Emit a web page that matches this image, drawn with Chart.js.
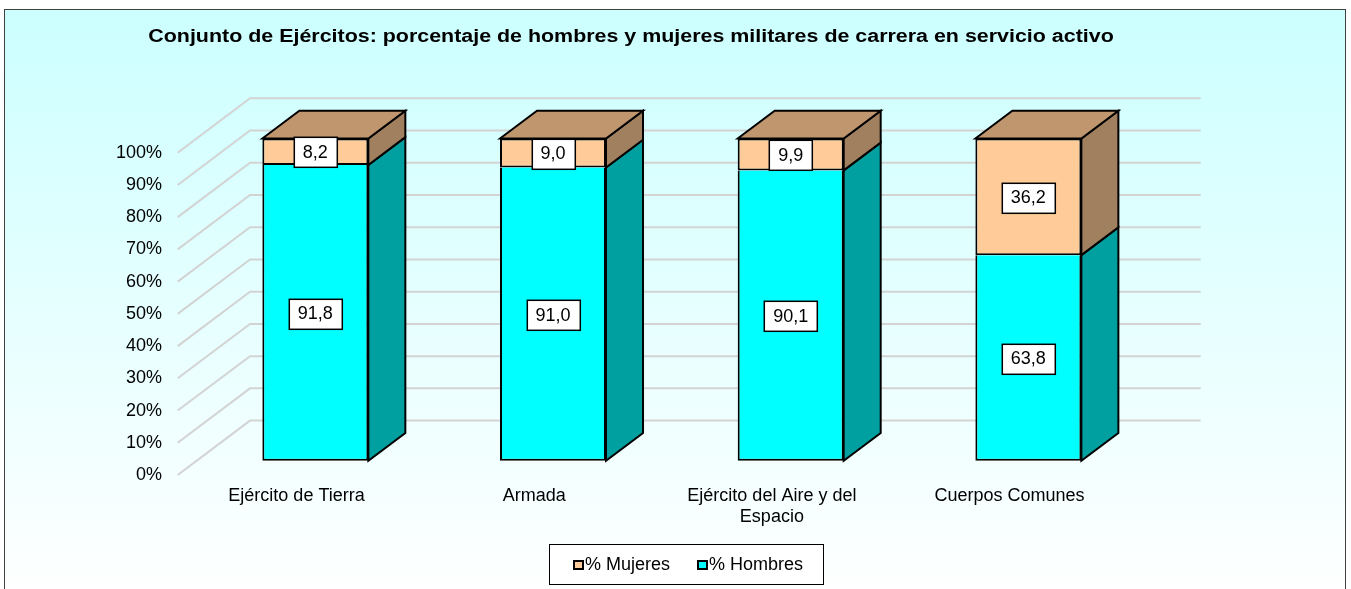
<!DOCTYPE html>
<html>
<head>
<meta charset="utf-8">
<script src="https://cdn.jsdelivr.net/npm/chart.js@4/dist/chart.umd.min.js"></script>
<style>
html,body{margin:0;padding:0;background:#fff;overflow:hidden}
#wrap{width:1351px;height:589px;position:relative}
</style>
</head>
<body>
<div id="wrap"><canvas id="c" width="1351" height="589"></canvas></div>
<script>
// ---- data ----
const categories = ["Ejército de Tierra", "Armada", ["Ejército del Aire y del", "Espacio"], "Cuerpos Comunes"];
const hombres = [91.8, 91.0, 90.1, 63.8];
const mujeres = [8.2, 9.0, 9.9, 36.2];
const seriesNames = ["% Hombres", "% Mujeres"];
const yTickValues = [0, 10, 20, 30, 40, 50, 60, 70, 80, 90, 100];
const titleText = "Conjunto de Ejércitos: porcentaje de hombres y mujeres militares de carrera en servicio activo";

// ---- styling / geometry ----
const FONT = '"Liberation Sans", Arial, sans-serif';
const WALL = {dx: 72.3, dy: -54.4};     // depth of the back wall
const BAR_OFF = {dx: 18.8, dy: -14.2};  // bar front face offset from front plane
const BAR_D = {dx: 37, dy: -27.8};      // bar depth
const COLORS = {
  hombres: {front: '#00FFFF', side: '#00A0A0', top: '#00C8C8'},
  mujeres: {front: '#FFCC99', side: '#A0805F', top: '#C0966E'}
};

function poly(ctx, pts, fill) {
  ctx.beginPath();
  ctx.moveTo(pts[0][0], pts[0][1]);
  for (let i = 1; i < pts.length; i++) ctx.lineTo(pts[i][0], pts[i][1]);
  ctx.closePath();
  ctx.fillStyle = fill;
  ctx.fill();
  ctx.stroke();
}

const scenePlugin = {
  id: 'scene',
  beforeDraw(chart) {
    const ctx = chart.ctx;
    ctx.save();
    ctx.fillStyle = '#ffffff';
    ctx.fillRect(0, 0, chart.width, chart.height);
    const g = ctx.createLinearGradient(0, 9, 0, 600);
    g.addColorStop(0, '#CCFFFF');
    g.addColorStop(1, '#FFFFFF');
    ctx.fillStyle = g;
    ctx.fillRect(4, 9, 1342, 700);
    ctx.strokeStyle = '#404040';
    ctx.lineWidth = 1;
    ctx.strokeRect(4.5, 9.5, 1341, 700);
    ctx.restore();
  },
  beforeDatasetsDraw(chart) {
    const ctx = chart.ctx;
    const ys = chart.scales.y;
    const area = chart.chartArea;
    // 3D gridlines: side wall diagonals + back wall lines
    ctx.save();
    ctx.strokeStyle = '#D3D3D3';
    ctx.lineWidth = 2;
    yTickValues.forEach(v => {
      const y = ys.getPixelForValue(v);
      ctx.beginPath();
      ctx.moveTo(area.left, y);
      ctx.lineTo(area.left + WALL.dx, y + WALL.dy);
      ctx.lineTo(area.right + WALL.dx, y + WALL.dy);
      ctx.stroke();
    });
    ctx.restore();
    // shift to bar front plane
    ctx.save();
    ctx.translate(BAR_OFF.dx, BAR_OFF.dy);
    ctx.strokeStyle = '#000';
    ctx.lineWidth = 2;
    ctx.lineJoin = 'miter';
    const m0 = chart.getDatasetMeta(0).data;
    const m1 = chart.getDatasetMeta(1).data;
    for (let i = 0; i < m0.length; i++) {
      const h = m0[i], m = m1[i];
      const L = h.x - h.width / 2, R = h.x + h.width / 2;
      // hombres side
      poly(ctx, [[R, h.y], [R + BAR_D.dx, h.y + BAR_D.dy], [R + BAR_D.dx, h.base + BAR_D.dy], [R, h.base]], COLORS.hombres.side);
      // mujeres side
      poly(ctx, [[R, m.y], [R + BAR_D.dx, m.y + BAR_D.dy], [R + BAR_D.dx, m.base + BAR_D.dy], [R, m.base]], COLORS.mujeres.side);
      // top
      poly(ctx, [[L, m.y], [L + BAR_D.dx, m.y + BAR_D.dy], [R + BAR_D.dx, m.y + BAR_D.dy], [R, m.y]], COLORS.mujeres.top);
    }
  },
  afterDatasetsDraw(chart) {
    const ctx = chart.ctx;
    // data labels (still in shifted coords)
    ctx.font = '18px ' + FONT;
    ctx.textAlign = 'center';
    ctx.textBaseline = 'middle';
    chart.data.datasets.forEach((ds, di) => {
      chart.getDatasetMeta(di).data.forEach((el, i) => {
        const txt = ds.data[i].toFixed(1).replace('.', ',');
        const cx = el.x, cy = (el.y + el.base) / 2 + 0.5;
        const w = ctx.measureText(txt).width + 18, hgt = 30;
        ctx.fillStyle = '#fff';
        ctx.fillRect(Math.round(cx - w / 2) + 0.5, Math.round(cy - hgt / 2) + 0.5, Math.round(w), hgt);
        ctx.strokeStyle = '#000';
        ctx.lineWidth = 1.5;
        ctx.strokeRect(Math.round(cx - w / 2) + 0.5, Math.round(cy - hgt / 2) + 0.5, Math.round(w), hgt);
        ctx.fillStyle = '#000';
        ctx.fillText(txt, cx, cy + 1);
      });
    });
    ctx.restore();
  },
  afterDraw(chart) {
    const ctx = chart.ctx;
    ctx.save();
    // title
    ctx.font = 'bold 18px ' + FONT;
    ctx.fillStyle = '#000';
    ctx.textAlign = 'center';
    ctx.textBaseline = 'middle';
    ctx.translate(631, 37.5);
    ctx.scale(1.19, 1);
    ctx.fillText(titleText, 0, 0);
    ctx.restore();
    // legend
    ctx.save();
    ctx.fillStyle = '#fff';
    ctx.fillRect(549, 544, 275, 40);
    ctx.strokeStyle = '#000';
    ctx.lineWidth = 1;
    ctx.strokeRect(549.5, 544.5, 274, 40);
    ctx.font = '18px ' + FONT;
    ctx.textAlign = 'left';
    ctx.textBaseline = 'middle';
    const items = [
      {label: chart.data.datasets[1].label, color: chart.data.datasets[1].backgroundColor, mx: 574},
      {label: chart.data.datasets[0].label, color: chart.data.datasets[0].backgroundColor, mx: 698}
    ];
    items.forEach(it => {
      ctx.fillStyle = it.color;
      ctx.fillRect(it.mx, 561, 9, 8);
      ctx.strokeStyle = '#000';
      ctx.lineWidth = 2;
      ctx.strokeRect(it.mx, 561, 9, 8);
      ctx.fillStyle = '#000';
      ctx.fillText(it.label, it.mx + 11, 565.5);
    });
    ctx.restore();
  }
};

new Chart(document.getElementById('c'), {
  type: 'bar',
  data: {
    labels: categories,
    datasets: [
      {label: seriesNames[0], data: hombres, backgroundColor: COLORS.hombres.front, borderColor: '#000', borderWidth: 2, borderSkipped: 'end', clip: false},
      {label: seriesNames[1], data: mujeres, backgroundColor: COLORS.mujeres.front, borderColor: '#000', borderWidth: 2, borderSkipped: false, clip: false}
    ]
  },
  options: {
    responsive: false,
    animation: false,
    events: [],
    devicePixelRatio: 1,
    layout: {padding: {top: 152.7, right: 222.6, bottom: 0, left: 0}},
    datasets: {bar: {barPercentage: 0.446, categoryPercentage: 1}},
    plugins: {legend: {display: false}, title: {display: false}, tooltip: {enabled: false}},
    scales: {
      x: {
        stacked: true,
        grid: {display: false, drawTicks: false},
        border: {display: false},
        ticks: {color: '#000', font: {family: FONT, size: 18}, padding: 10, maxRotation: 0, autoSkip: false},
        afterFit(scale) { scale.height = 114; }
      },
      y: {
        stacked: true,
        min: 0, max: 100,
        grid: {display: false, drawTicks: false},
        border: {display: false},
        afterBuildTicks(scale) { scale.ticks = yTickValues.map(v => ({value: v})); },
        ticks: {color: '#000', font: {family: FONT, size: 18}, padding: 15.7, callback: v => v + '%'},
        afterFit(scale) { scale.width = 177.7; }
      }
    }
  },
  plugins: [scenePlugin]
});
</script>
</body>
</html>
